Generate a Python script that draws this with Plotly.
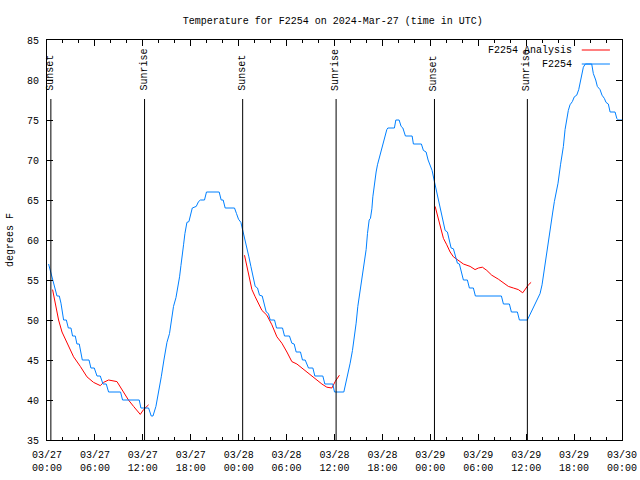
import pandas as pd
import plotly.graph_objects as go

START = pd.Timestamp("2024-03-27 00:00")

# Observed temperature (hours since 03/27 00:00 UTC, degrees F)
obs_hours = [0.20, 0.41, 0.70, 1.00, 1.25, 1.54, 1.75, 2.08, 2.42, 2.67, 3.00, 3.20, 3.54, 3.75, 4.04,
             4.42, 5.26, 5.50, 5.92, 6.26, 6.67, 7.01, 7.42, 7.71, 9.21, 9.46, 11.55, 11.76, 12.72,
             13.05, 13.27, 13.64, 13.97, 14.31, 14.64, 15.02, 15.34, 15.64, 15.84, 16.15, 16.40,
             16.60, 16.77, 16.90, 17.10, 17.27, 17.40, 17.52, 17.77, 18.02, 18.19, 18.69, 18.97,
             19.22, 19.72, 19.97, 21.56, 21.81, 22.06, 22.31, 23.48, 23.73, 23.98, 24.28, 24.53,
             24.82, 25.03, 25.28, 25.53, 25.78, 26.07, 26.36, 26.61, 26.95, 27.20, 27.45, 27.73,
             27.95, 28.49, 28.74, 29.49, 29.74, 30.36, 30.66, 30.95, 31.20, 31.74, 31.99, 32.33,
             32.74, 33.29, 33.54, 34.54, 34.79, 35.79, 36.00, 37.17, 37.42, 37.67, 37.96, 38.25,
             38.46, 38.71, 38.92, 39.12, 39.34, 39.55, 39.71, 39.96, 40.13, 40.34, 40.50, 40.68,
             40.80, 40.93, 41.09, 41.21, 41.38, 41.59, 41.80, 42.05, 42.30, 42.55, 42.68, 43.50,
             43.68, 44.09, 44.34, 44.56, 44.88, 45.72, 45.88, 46.88, 47.13, 47.47, 47.72, 47.97,
             48.22, 48.47, 48.81, 49.06, 49.31, 49.56, 49.85, 50.14, 50.39, 50.60, 50.89, 51.14,
             51.39, 51.64, 51.89, 52.14, 52.64, 52.89, 53.39, 53.64, 56.90, 57.15, 57.90, 58.15,
             58.90, 59.15, 60.15, 60.49, 60.90, 61.33, 61.74, 61.99, 62.24, 62.49, 62.65, 62.90,
             63.12, 63.33, 63.53, 63.74, 63.99, 64.30, 64.66, 64.87, 65.08, 65.28, 65.49, 65.78,
             66.03, 66.33, 66.58, 66.75, 66.96, 67.16, 67.41, 68.21, 68.41, 68.71, 68.91, 69.25,
             69.50, 69.79, 70.00, 70.29, 70.51, 71.13, 71.35, 71.55, 72.00]
obs_temp = [57.0, 56.2, 55.0, 54.2, 53.0, 53.0, 52.1, 50.0, 50.0, 49.0, 49.0, 48.0, 48.0, 47.0, 47.0,
            45.0, 45.0, 44.0, 44.0, 43.0, 43.0, 42.0, 42.0, 41.0, 41.0, 40.0, 40.0, 39.0, 39.0,
            38.0, 38.0, 39.2, 40.8, 42.9, 45.0, 47.2, 48.3, 50.3, 51.7, 52.8, 54.0,
            55.4, 56.8, 58.2, 59.4, 60.8, 61.7, 62.2, 62.3, 63.3, 64.0, 64.2, 64.8,
            65.0, 65.0, 66.0, 66.0, 65.0, 65.0, 64.0, 64.0, 63.3, 62.6, 62.2, 61.2,
            60.0, 59.2, 57.9, 56.7, 55.4, 54.2, 54.0, 53.1, 53.0, 51.9, 51.0, 50.8,
            50.0, 50.0, 49.0, 49.0, 48.0, 48.0, 47.1, 47.0, 46.0, 46.0, 45.0, 45.0,
            44.0, 44.0, 43.0, 43.0, 42.0, 42.0, 41.0, 41.0, 42.1, 43.5, 44.6, 46.2,
            47.5, 49.6, 51.7, 53.1, 54.6, 55.8, 57.1, 58.8, 60.8, 62.5, 62.7, 63.9,
            65.4, 66.6, 67.7, 68.5, 69.4, 70.2, 71.2, 72.2, 73.1, 73.8, 74.0, 74.0,
            75.0, 75.0, 74.2, 74.0, 73.0, 73.0, 72.0, 72.0, 71.2, 71.0, 70.0, 69.4,
            68.7, 67.5, 66.0, 65.0, 63.8, 62.5, 61.2, 61.0, 60.1, 59.0, 58.9, 57.9,
            57.1, 57.0, 56.0, 55.0, 55.0, 54.0, 54.0, 53.0, 53.0, 52.0, 52.0, 51.0,
            51.0, 50.0, 50.0, 50.7, 51.5, 52.3, 53.3, 54.4, 56.2, 57.5, 59.2, 60.8,
            62.3, 63.5, 64.8, 65.8, 67.1, 69.4, 71.7, 73.8, 75.3, 76.2, 76.9, 77.3,
            77.9, 78.1, 78.8, 79.6, 80.8, 81.6, 82.0, 82.0, 80.8, 80.0, 79.2, 78.8,
            78.1, 77.7, 77.2, 77.0, 76.0, 76.0, 75.2, 75.0, 75.0]

# Analysis (night-time segments, None = gap)
ana_hours = [0.70, 1.04, 1.45, 1.88, 2.50, 3.33, 4.17, 5.00, 5.83, 6.67, 7.08, 7.71, 8.76, 9.59,
             10.20, 10.84, 11.68, 12.09, 12.72, None,
             24.73, 25.03, 25.32, 25.66, 26.07, 26.48, 26.91, 27.53, 28.16, 28.79, 29.41, 30.04,
             30.66, 31.29, 31.91, 32.54, 33.17, 33.79, 34.42, 35.04, 35.67, 36.08, 36.62, None,
             48.60, 48.89, 49.22, 49.64, 50.06, 50.48, 50.89, 51.51, 52.14, 52.98, 53.60, 54.02,
             54.52, 55.07, 55.69, 56.52, 57.15, 57.77, 58.40, 59.02, 59.57, 59.99, 60.28, 60.62]
ana_temp = [53.8, 51.9, 50.0, 48.5, 47.1, 45.4, 44.2, 42.9, 42.2, 41.8, 42.2, 42.5, 42.3, 41.0,
            40.0, 39.2, 38.2, 38.8, 39.4, None,
            58.1, 56.7, 55.2, 53.8, 52.9, 52.1, 51.2, 50.6, 49.4, 47.9, 47.1, 46.0,
            44.8, 44.5, 44.0, 43.4, 42.9, 42.5, 42.0, 41.6, 41.5, 42.3, 43.1, None,
            64.2, 63.1, 61.9, 60.2, 59.4, 58.5, 57.9, 57.4, 57.0, 56.7, 56.3, 56.5,
            56.6, 56.2, 55.6, 55.1, 54.6, 54.2, 54.0, 53.8, 53.4, 54.0, 54.4, 54.7]

sun_labels = ["Sunset", "Sunrise", "Sunset", "Sunrise", "Sunset", "Sunrise"]
sun_times = ["2024-03-27 00:29", "2024-03-27 12:13", "2024-03-28 00:30",
             "2024-03-28 12:12", "2024-03-29 00:31", "2024-03-29 12:09"]

tick_times = ["2024-03-27 00:00", "2024-03-27 06:00", "2024-03-27 12:00", "2024-03-27 18:00",
              "2024-03-28 00:00", "2024-03-28 06:00", "2024-03-28 12:00", "2024-03-28 18:00",
              "2024-03-29 00:00", "2024-03-29 06:00", "2024-03-29 12:00", "2024-03-29 18:00",
              "2024-03-30 00:00"]
tick_labels = ["03/27<br>00:00", "03/27<br>06:00", "03/27<br>12:00", "03/27<br>18:00",
               "03/28<br>00:00", "03/28<br>06:00", "03/28<br>12:00", "03/28<br>18:00",
               "03/29<br>00:00", "03/29<br>06:00", "03/29<br>12:00", "03/29<br>18:00",
               "03/30<br>00:00"]

series_names = ["F2254 Analysis", "F2254"]
series_colors = ["#ff0000", "#0080ff"]


def to_time(hours):
    return [None if h is None else START + pd.Timedelta(hours=h) for h in hours]


FONT = "Liberation Mono"
fig = go.Figure()
fig.add_trace(go.Scatter(x=to_time(ana_hours), y=ana_temp, mode="lines", name=series_names[0],
                         line=dict(color=series_colors[0], width=1), connectgaps=False,
                         showlegend=False))
fig.add_trace(go.Scatter(x=to_time(obs_hours), y=obs_temp, mode="lines", name=series_names[1],
                         line=dict(color=series_colors[1], width=1), showlegend=False))

shapes = []
annotations = []
for lab, t in zip(sun_labels, sun_times):
    shapes.append(dict(type="line", xref="x", yref="paper", x0=t, x1=t, y0=0, y1=0.8525,
                       line=dict(color="black", width=1)))
    annotations.append(dict(x=t, xref="x", y=0.8675, yref="paper", text=lab, textangle=-90,
                            showarrow=False, xanchor="center", yanchor="bottom",
                            font=dict(family=FONT, size=10, color="black")))

# legend (gnuplot style: text left, sample right)
legend_y = [0.975, 0.94]
for name, col, ly in zip(series_names, series_colors, legend_y):
    annotations.append(dict(x=0.917, xref="paper", y=ly, yref="paper", text=name, showarrow=False,
                            xanchor="right", yanchor="middle",
                            font=dict(family=FONT, size=10, color="black")))
    shapes.append(dict(type="line", xref="paper", yref="paper", x0=0.93, x1=0.979, y0=ly, y1=ly,
                       line=dict(color=col, width=1)))

fig.update_layout(
    width=640, height=480,
    margin=dict(l=47, r=18, t=40, b=40, autoexpand=False),
    paper_bgcolor="white", plot_bgcolor="white",
    font=dict(family=FONT, size=10, color="black"),
    title=dict(text="Temperature for F2254 on 2024-Mar-27 (time in UTC)", xref="paper", x=0.497,
               xanchor="center", yref="container", y=1 - 20 / 480, yanchor="middle",
               font=dict(family=FONT, size=10)),
    shapes=shapes, annotations=annotations, showlegend=False, hovermode=False,
)
fig.update_xaxes(type="date", range=[tick_times[0], tick_times[-1]], tickvals=tick_times,
                 ticktext=tick_labels, showgrid=False, zeroline=False, showline=True,
                 linecolor="black", linewidth=1, mirror="ticks", ticks="inside", ticklen=6,
                 tickcolor="black", automargin=False, ticklabelstandoff=5,
                 minor=dict(ticks="inside", ticklen=3, dtick=2 * 3600 * 1000,
                            tick0="2024-03-27 00:00", tickcolor="black", showgrid=False),
                 tickfont=dict(family=FONT, size=10))
fig.update_yaxes(range=[35, 85], dtick=5, tick0=35, showgrid=False, zeroline=False,
                 showline=True, linecolor="black", linewidth=1, mirror="ticks", ticks="inside",
                 ticklen=6, tickcolor="black", tickfont=dict(family=FONT, size=10),
                 automargin=False, ticklabelstandoff=5,
                 title=dict(text="degrees F", font=dict(family=FONT, size=10), standoff=11))

fig.write_html("out.html", config={"displayModeBar": False},
               post_script="document.body.style.margin='0';document.body.style.overflow='hidden';")
